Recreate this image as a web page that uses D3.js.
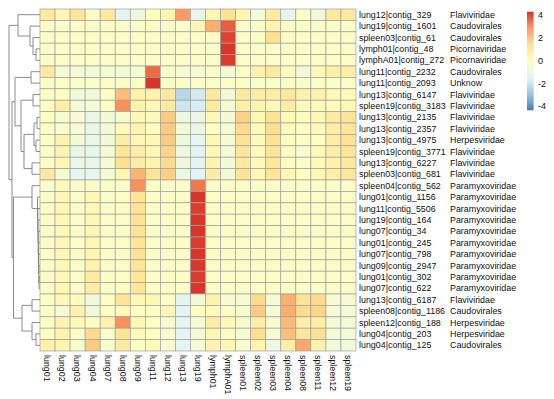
<!DOCTYPE html>
<html>
<head>
<meta charset="utf-8">
<script src="https://cdn.jsdelivr.net/npm/d3@7"></script>
<style>
  body { margin: 0; background: #fff; }
  svg { display: block; font-family: "Liberation Sans", Arial, sans-serif; }
</style>
</head>
<body>
<script>
// column (sample) names
const samples = ["lung01", "lung02", "lung03", "lung04", "lung07", "lung08", "lung09", "lung11",
  "lung12", "lung13", "lung19", "lymph01", "lymphA01", "spleen01", "spleen02", "spleen03",
  "spleen04", "spleen08", "spleen11", "spleen12", "spleen19"];

// row names, in dendrogram order
const contigs = ["lung12|contig_329", "lung19|contig_1601", "spleen03|contig_61", "lymph01|contig_48",
  "lymphA01|contig_272", "lung11|contig_2232", "lung11|contig_2093", "lung13|contig_6147",
  "spleen19|contig_3183", "lung13|contig_2135", "lung13|contig_2357", "lung13|contig_4975",
  "spleen19|contig_3771", "lung13|contig_6227", "spleen03|contig_681", "spleen04|contig_562",
  "lung01|contig_1156", "lung11|contig_5506", "lung19|contig_164", "lung07|contig_34",
  "lung01|contig_245", "lung07|contig_798", "lung09|contig_2947", "lung01|contig_302",
  "lung07|contig_622", "lung13|contig_6187", "spleen08|contig_1186", "spleen12|contig_188",
  "lung04|contig_203", "lung04|contig_125"];

const families = ["Flaviviridae", "Caudovirales", "Caudovirales", "Picornaviridae", "Picornaviridae",
  "Caudovirales", "Unknow", "Flaviviridae", "Flaviviridae", "Flaviviridae", "Flaviviridae",
  "Herpesviridae", "Flaviviridae", "Flaviviridae", "Flaviviridae", "Paramyxoviridae",
  "Paramyxoviridae", "Paramyxoviridae", "Paramyxoviridae", "Paramyxoviridae", "Paramyxoviridae",
  "Paramyxoviridae", "Paramyxoviridae", "Paramyxoviridae", "Paramyxoviridae", "Flaviviridae",
  "Caudovirales", "Herpesviridae", "Herpesviridae", "Caudovirales"];

// row-scaled values, one line per row, one entry per sample
const values = [
  [1.0, 0.3, 1.2, -0.3, 1.0, -1.3, -0.8, 0.0, 0.5, 2.6, -1.1, 0.4, 1.3, 0.4, -0.6, 0.9, -1.2, -0.1, -0.7, 1.0, 1.0],
  [-0.2, -0.2, -0.2, -0.2, -0.2, -0.2, -0.2, -0.2, -0.2, -0.2, 0.4, 2.3, 3.6, -0.2, -0.2, 0.5, -0.2, -0.2, -0.2, -0.2, -0.2],
  [-0.2, -0.2, -0.2, -0.2, -0.2, -0.2, -0.2, -0.2, -0.2, -0.2, -0.2, -0.2, 4.0, -0.2, -0.2, 1.4, -0.2, -0.2, -0.2, -0.2, -0.2],
  [-0.2, -0.2, -0.2, -0.2, -0.2, -0.2, -0.2, -0.2, -0.2, -0.2, -0.2, -0.2, 4.2, -0.2, -0.2, -0.2, -0.2, -0.2, -0.2, -0.2, -0.2],
  [-0.2, -0.2, -0.2, -0.2, -0.2, -0.2, -0.2, -0.2, -0.2, -0.2, -0.2, -0.2, 4.1, -0.2, -0.2, -0.2, -0.2, -0.2, -0.2, -0.2, -0.2],
  [1.0, -0.5, -0.5, -0.6, -0.5, -0.6, -0.5, 3.4, -0.2, -0.5, -0.5, -0.2, -0.6, 0.0, 0.6, 1.0, 0.1, -0.7, 0.2, 0.7, 0.8],
  [-0.2, -0.2, -0.2, -0.2, -0.2, -0.2, -0.2, 4.2, -0.2, -0.2, -0.2, -0.2, -0.2, -0.2, -0.2, -0.2, -0.2, -0.2, -0.2, -0.2, -0.2],
  [-0.1, -0.1, -0.6, -0.7, -0.1, 2.0, 0.6, 0.6, 1.0, -2.2, -1.7, 1.0, -0.7, 1.0, 0.8, 0.8, 1.0, 0.6, 0.6, 0.3, 0.2],
  [-0.1, 0.8, -0.6, -0.5, -0.1, 2.8, 0.6, 0.3, 1.0, -1.8, -1.6, 1.0, -0.6, 0.7, 0.5, 0.3, 0.8, 0.2, 0.2, 0.2, 0.3],
  [-0.1, -0.4, -0.5, -1.0, -0.6, -0.4, 0.3, 0.2, 1.8, -0.8, -1.0, 0.3, -0.6, 1.7, 0.3, 1.3, 0.2, 0.1, 0.3, 0.9, 1.2],
  [-0.1, -0.3, -0.5, -1.0, -0.6, 0.2, 0.5, -0.1, 1.8, -0.6, -1.0, -0.1, -0.5, 1.5, 0.2, 1.4, 0.1, -0.1, 0.2, 0.8, 1.2],
  [-0.1, 0.5, -0.6, -1.0, -0.6, 0.8, 0.3, 0.3, 1.8, -0.8, -1.2, 0.3, -0.5, 1.3, 0.2, 1.3, -0.1, -0.1, -0.1, 0.8, 1.3],
  [-0.1, 0.5, -1.0, -1.1, -0.6, 1.2, 0.8, 0.3, 1.6, -0.8, -1.4, 0.3, -0.6, 1.2, 0.2, 1.2, -0.1, -0.4, 0.2, 0.8, 1.2],
  [-0.1, 0.3, -1.0, -1.1, -0.5, 1.4, 0.8, 0.5, 1.5, -0.8, -1.3, 0.5, -0.6, 1.0, 0.2, 1.1, 0.0, -0.2, 0.2, 0.6, 1.0],
  [1.0, -0.5, -1.2, -1.2, -0.5, 0.4, 2.2, 1.2, 1.7, -1.0, -1.4, 0.8, -0.7, 1.3, 0.3, 1.2, 0.3, -0.1, 0.3, 0.7, 1.1],
  [-0.2, 0.2, -0.2, -0.2, -0.2, -0.2, 2.8, -0.2, -0.2, -0.2, 3.2, -0.2, -0.2, -0.2, -0.2, -0.2, -0.2, -0.2, -0.2, -0.2, -0.2],
  [-0.2, 0.3, -0.2, 0.3, -0.2, -0.2, 1.2, -0.2, -0.2, -0.2, 4.2, -0.2, -0.2, -0.2, -0.2, -0.2, -0.2, -0.2, -0.2, -0.2, -0.2],
  [-0.2, 0.3, -0.2, 0.3, -0.2, -0.2, 1.3, -0.2, -0.2, -0.2, 4.1, -0.2, -0.2, -0.2, -0.2, -0.2, -0.2, -0.2, -0.2, -0.2, -0.2],
  [-0.2, 0.3, -0.2, 0.4, -0.2, -0.2, 1.3, -0.2, -0.2, -0.2, 4.2, -0.2, -0.2, -0.2, -0.2, -0.2, -0.2, -0.2, -0.2, -0.2, -0.2],
  [-0.2, 0.3, -0.2, 0.4, -0.2, -0.2, 1.3, -0.2, -0.2, -0.2, 4.2, -0.2, -0.2, -0.2, -0.2, -0.2, -0.2, -0.2, -0.2, -0.2, -0.2],
  [-0.2, 0.3, -0.2, 0.4, -0.2, -0.2, 1.2, -0.2, -0.2, -0.2, 4.1, -0.2, -0.2, -0.2, -0.2, -0.2, -0.2, -0.2, -0.2, -0.2, -0.2],
  [-0.2, 0.3, -0.2, 0.4, -0.2, -0.2, 1.3, -0.2, -0.2, -0.2, 4.2, -0.2, -0.2, -0.2, -0.2, -0.2, -0.2, -0.2, -0.2, -0.2, -0.2],
  [-0.2, 0.3, -0.2, 0.6, -0.2, -0.2, 1.2, -0.2, -0.2, -0.2, 4.2, -0.2, -0.2, -0.2, -0.2, -0.2, -0.2, -0.2, -0.2, -0.2, -0.2],
  [-0.2, 0.3, -0.2, 0.9, -0.2, -0.2, 1.2, -0.2, -0.2, -0.2, 4.1, -0.2, -0.2, -0.2, -0.2, -0.2, -0.2, -0.2, -0.2, -0.2, -0.2],
  [-0.2, 0.3, -0.2, 0.8, -0.2, -0.2, 1.2, -0.2, -0.2, -0.2, 4.2, -0.2, -0.2, -0.2, -0.2, -0.2, -0.2, -0.2, -0.2, -0.2, -0.2],
  [-0.1, 0.3, 0.2, -0.7, -0.1, 1.2, 0.3, 0.3, -0.1, -1.3, -0.6, 0.6, -0.5, -0.4, 1.5, -0.5, 2.3, 1.3, 1.5, -0.5, -0.5],
  [-0.1, -0.5, 0.6, -0.7, -0.1, 0.2, -0.1, -0.1, 0.3, -1.3, -0.1, 0.2, -0.1, -0.4, 1.8, -0.5, 2.3, 1.5, 1.6, -0.5, -0.5],
  [-0.1, 0.5, 0.2, 0.0, 0.6, 2.8, 0.3, -0.1, -0.4, -1.2, -0.5, 0.8, 0.2, -0.4, 0.8, -0.4, 2.1, 0.8, 0.7, -0.6, -0.6],
  [-0.1, 0.5, -0.1, 1.5, -0.3, 1.2, 0.2, -0.1, -0.4, -1.3, -0.5, 0.3, -0.1, -0.4, 1.4, -0.5, 2.0, 1.1, 1.3, -0.6, -0.6],
  [0.6, 0.5, -0.3, 1.8, -0.4, 1.0, -0.1, 0.2, -0.4, -1.3, -0.5, 0.5, 0.3, -0.3, 0.5, -0.9, 0.7, 2.4, 0.6, -0.7, -0.7]
];

// row clustering, hclust style: -k is row k-1, +k is merge step k
const merges = [
  [-4, -5, 4], [-3, 1, 7], [-2, 2, 10], [-1, 3, 22],
  [-6, -7, 9], [-8, -9, 7], [-10, -11, 3], [-12, -13, 4], [7, 8, 6], [-14, -15, 8],
  [9, 10, 16], [6, 11, 19], [5, 12, 25],
  [-24, -25, 1.0], [-23, 14, 1.2], [-22, 15, 1.4], [-21, 16, 1.6], [-20, 17, 1.8],
  [-19, 18, 2.0], [-18, 19, 2.2], [-17, 20, 2.5], [-16, 21, 8],
  [-26, -27, 8], [-29, -30, 4], [-28, 24, 8], [23, 25, 18],
  [22, 26, 26.5], [13, 27, 28], [4, 28, 31]
];

const legendTicks = [4, 2, 0, -2, -4];
const valueRange = [-4.33, 4.29];
const palette = ["#4575B4", "#91BFDB", "#E0F3F8", "#FFFFBF", "#FEE090", "#FC8D59", "#D73027"];

const W = 554, H = 399;
const FS = 8.9;
const svg = d3.select("body").append("svg").attr("width", W).attr("height", H);

const x = d3.scaleBand().domain(samples).range([40, 356]);
const y = d3.scaleBand().domain(contigs).range([9, 351]);

const stops = d3.range(palette.length).map(i =>
  valueRange[0] + i * (valueRange[1] - valueRange[0]) / (palette.length - 1));
const color = d3.scaleLinear().domain(stops).range(palette).clamp(true);

// cells
const cells = [];
values.forEach((row, i) => row.forEach((v, j) => cells.push({ r: contigs[i], c: samples[j], v: v })));
svg.append("g").selectAll("rect")
  .data(cells)
  .enter()
  .append("rect")
  .attr("x", d => x(d.c))
  .attr("y", d => y(d.r))
  .attr("width", x.bandwidth())
  .attr("height", y.bandwidth())
  .attr("fill", d => color(d.v))
  .attr("stroke", "#a0a0a0")
  .attr("stroke-width", 0.7);

// dendrogram
const hx = d3.scaleLinear().domain([0, 31]).range([40, 9]);
const pos = [], hgt = [];
function node(k) {
  if (k < 0) return { p: y(contigs[-k - 1]) + y.bandwidth() / 2, h: 0 };
  return { p: pos[k - 1], h: hgt[k - 1] };
}
const paths = [];
merges.forEach(m => {
  const a = node(m[0]), b = node(m[1]);
  paths.push("M" + hx(a.h) + "," + a.p + "H" + hx(m[2]) + "V" + b.p + "H" + hx(b.h));
  pos.push((a.p + b.p) / 2);
  hgt.push(m[2]);
});
svg.append("g").selectAll("path")
  .data(paths)
  .enter()
  .append("path")
  .attr("d", d => d)
  .attr("fill", "none")
  .attr("stroke", "#808080")
  .attr("stroke-width", 0.9);

// row labels and families
svg.append("g").selectAll("text")
  .data(contigs)
  .enter()
  .append("text")
  .attr("x", 359)
  .attr("y", d => y(d) + y.bandwidth() / 2)
  .attr("dy", "0.35em")
  .attr("font-size", FS)
  .attr("fill", "#111")
  .text(d => d);

svg.append("g").selectAll("text")
  .data(families)
  .enter()
  .append("text")
  .attr("x", 450)
  .attr("y", (d, i) => y(contigs[i]) + y.bandwidth() / 2)
  .attr("dy", "0.35em")
  .attr("font-size", FS)
  .attr("fill", "#111")
  .text(d => d);

// column labels
svg.append("g").selectAll("text")
  .data(samples)
  .enter()
  .append("text")
  .attr("transform", d => "translate(" + (x(d) + x.bandwidth() / 2) + ",355) rotate(90)")
  .attr("dy", "0.35em")
  .attr("font-size", FS)
  .attr("fill", "#111")
  .text(d => d);

// legend
const ly = d3.scaleLinear().domain(valueRange).range([110, 11.7]);
const steps = d3.range(100);
const step = (valueRange[1] - valueRange[0]) / 100;
svg.append("g").selectAll("rect")
  .data(steps)
  .enter()
  .append("rect")
  .attr("x", 527)
  .attr("width", 6.5)
  .attr("y", i => ly(valueRange[0] + (i + 1) * step))
  .attr("height", i => ly(valueRange[0] + i * step) - ly(valueRange[0] + (i + 1) * step) + 0.3)
  .attr("fill", i => color(valueRange[0] + (i + 0.5) * step));

svg.append("g").selectAll("text")
  .data(legendTicks)
  .enter()
  .append("text")
  .attr("x", 538)
  .attr("y", d => ly(d))
  .attr("dy", "0.35em")
  .attr("font-size", FS)
  .attr("fill", "#111")
  .text(d => d);
</script>
</body>
</html>
